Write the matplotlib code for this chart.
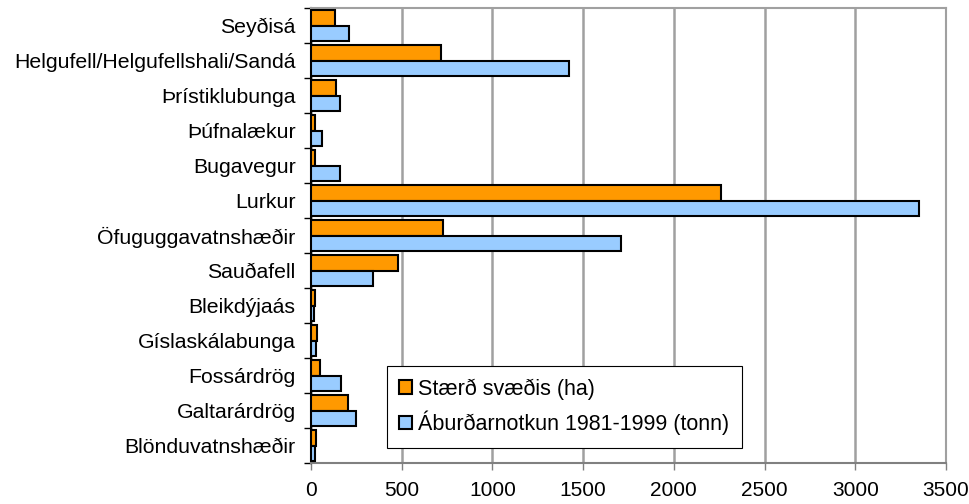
import numpy as np
import matplotlib.pyplot as plt
from matplotlib.ticker import FixedLocator, NullFormatter

plt.rcParams['font.family'] = ['Liberation Sans', 'DejaVu Sans']

svaedi = ['Seyðisá', 'Helgufell/Helgufellshali/Sandá', 'Þrístiklubunga', 'Þúfnalækur',
          'Bugavegur', 'Lurkur', 'Öfuguggavatnshæðir', 'Sauðafell', 'Bleikdýjaás',
          'Gíslaskálabunga', 'Fossárdrög', 'Galtarárdrög', 'Blönduvatnshæðir']
staerd = [132, 718, 136, 22, 22, 2258, 728, 480, 20, 32, 50, 202, 30]
aburdur = [210, 1420, 160, 62, 158, 3350, 1710, 342, 18, 30, 168, 250, 22]

y = np.arange(len(svaedi))
h = 0.45

fig = plt.figure(figsize=(9.7, 5.04), dpi=100)
ax = fig.add_axes([0.3206, 0.0813, 0.6547, 0.9027])

ax.barh(y - h/2, staerd, height=h, color='#FF9900', edgecolor='black', linewidth=1.5,
        label='Stærð svæðis (ha)', zorder=3)
ax.barh(y + h/2, aburdur, height=h, color='#99CCFF', edgecolor='black', linewidth=1.5,
        label='Áburðarnotkun 1981-1999 (tonn)', zorder=3)

ax.set_xlim(0, 3500)
ax.set_ylim(len(svaedi) - 0.5, -0.5)
ax.set_xticks(np.arange(0, 3501, 500))
ax.tick_params(axis='x', labelsize=15, length=5, width=1, color='#808080', pad=8)

# merki milli flokka, nöfn í miðju
ax.yaxis.set_major_locator(FixedLocator(np.arange(-0.5, len(svaedi), 1)))
ax.yaxis.set_major_formatter(NullFormatter())
ax.yaxis.set_minor_locator(FixedLocator(y))
ax.set_yticklabels(svaedi, minor=True)
ax.tick_params(axis='y', which='major', length=5, width=1, color='black')
ax.tick_params(axis='y', which='minor', length=0, labelsize=15.3, pad=11)

ax.grid(axis='x', color='#A0A0A0', linewidth=1.8, zorder=0)
for s in ['top', 'right']:
    ax.spines[s].set_color('#A0A0A0')
    ax.spines[s].set_linewidth(1.5)
ax.spines['left'].set_color('black')
ax.spines['left'].set_linewidth(1.5)
ax.spines['bottom'].set_color('#808080')
ax.spines['bottom'].set_linewidth(1.5)

leg = ax.legend(loc='lower left', bbox_to_anchor=(0.119, 0.033), fontsize=15.5,
                fancybox=False, framealpha=1, edgecolor='black', handlelength=0.6,
                handleheight=0.6, handletextpad=0.25, borderpad=0.6, labelspacing=0.5,
                borderaxespad=0)
leg.get_frame().set_linewidth(0.8)

fig.savefig('out.png')
